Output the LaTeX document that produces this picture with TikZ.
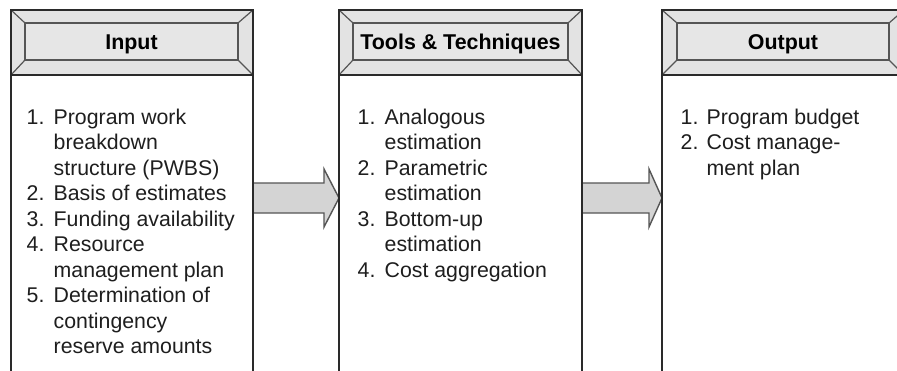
\documentclass[tikz,border=0pt]{standalone}
\usepackage{fontspec}
\setmainfont{Liberation Sans}
\usetikzlibrary{calc}
\definecolor{hdrfill}{HTML}{E3E3E3}
\definecolor{innerfill}{HTML}{E6E6E6}
\definecolor{edge}{HTML}{2A2A2A}
\definecolor{bevel}{HTML}{555555}
\definecolor{arrfill}{HTML}{D4D4D4}
\definecolor{txt}{HTML}{1E1E1E}
\tikzset{
  outerbox/.style={draw=edge, line width=2.2pt},
  hdrbox/.style={draw=edge, line width=2.2pt, fill=hdrfill},
  innerbox/.style={draw=bevel, line width=1.3pt, fill=innerfill},
  bevelline/.style={draw=bevel, line width=1.2pt},
  title/.style={font=\fontsize{21.4}{25}\selectfont\bfseries, text=black, inner sep=0pt, anchor=base},
  listtext/.style={font=\fontsize{21.3}{25.5}\selectfont, text=txt, inner sep=0pt, anchor=base west, align=left},
  bigarrow/.style={draw=bevel, line width=1.4pt, fill=arrfill, line join=miter}
}
\newcommand{\colhead}[5]{%
  % #1 name, #2 x left, #3 x right, #4 inner left, #5 inner right
  \coordinate (#1-otl) at (#2,10);
  \coordinate (#1-otr) at (#3,10);
  \coordinate (#1-obl) at (#2,75);
  \coordinate (#1-obr) at (#3,75);
  \coordinate (#1-itl) at (#4,23);
  \coordinate (#1-itr) at (#5,23);
  \coordinate (#1-ibl) at (#4,60);
  \coordinate (#1-ibr) at (#5,60);
  \fill[hdrfill] (#1-otl) rectangle (#1-obr);
  \draw[innerbox] (#1-itl) rectangle (#1-ibr);
  \draw[bevelline] (#1-otl) -- (#1-itl) (#1-otr) -- (#1-itr) (#1-obl) -- (#1-ibl) (#1-obr) -- (#1-ibr);
  \draw[outerbox] (#1-otl) rectangle (#1-obr);
  \draw[outerbox, line width=2.8pt] (#1-obl) -- (#1-obr);
  \draw[outerbox] (#1-obl) -- (#2,400) (#1-obr) -- (#3,400);
}
\begin{document}
\begin{tikzpicture}[x=1pt,y=-1pt]
\useasboundingbox (0,0) rectangle (897,370);
\fill[white] (0,0) rectangle (897,370);
\clip (0,0) rectangle (897,370);

% arrows (drawn first, boxes over them)
\coordinate (a1s) at (253,198);
\coordinate (a1e) at (339,198);
\coordinate (a2s) at (582,198);
\coordinate (a2e) at (662,198);
\draw[bigarrow] ($(a1s)+(0,-15)$) -- ($(a1e)+(-15,-15)$) -- ($(a1e)+(-15,-29)$) -- (a1e) -- ($(a1e)+(-15,29)$) -- ($(a1e)+(-15,15)$) -- ($(a1s)+(0,15)$);
\draw[bigarrow] ($(a2s)+(0,-15)$) -- ($(a2e)+(-13,-15)$) -- ($(a2e)+(-13,-29)$) -- (a2e) -- ($(a2e)+(-13,29)$) -- ($(a2e)+(-13,15)$) -- ($(a2s)+(0,15)$);

\colhead{in}{11}{253}{25}{238}
\colhead{tt}{339}{582}{353}{568}
\colhead{out}{662}{904}{677}{889}

\node[title] (inT) at (131.5,49.5) {Input};
\node[title] (ttT) at (460.5,49.5) {Tools \& Techniques};
\node[title] (outT) at (783,49.5) {Output};

\node[listtext] (inL) at (26.5,124) {\begin{tabular}[t]{@{}p{27pt}@{}l@{}}
1. & Program work\\
   & breakdown\\
   & structure (PWBS)\\
2. & Basis of estimates\\
3. & Funding availability\\
4. & Resource\\
   & management plan\\
5. & Determination of\\
   & contingency\\
   & reserve amounts
\end{tabular}};

\node[listtext] (ttL) at (357.5,124) {\begin{tabular}[t]{@{}p{27pt}@{}l@{}}
1. & Analogous\\
   & estimation\\
2. & Parametric\\
   & estimation\\
3. & Bottom-up\\
   & estimation\\
4. & Cost aggregation
\end{tabular}};

\node[listtext] (outL) at (680.5,124) {\begin{tabular}[t]{@{}p{26pt}@{}l@{}}
1. & Program budget\\
2. & Cost manage-\\
   & ment plan
\end{tabular}};
\end{tikzpicture}
\end{document}
